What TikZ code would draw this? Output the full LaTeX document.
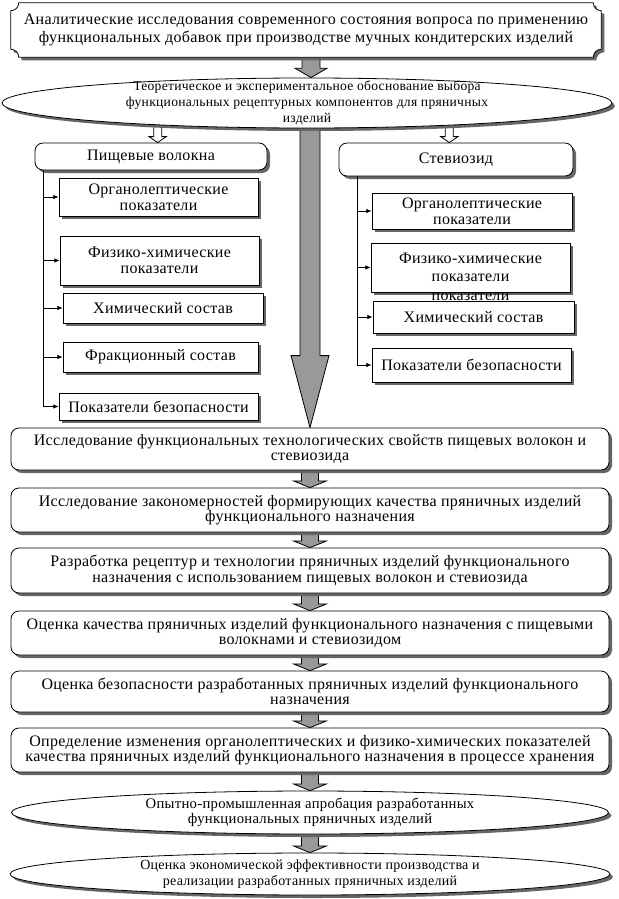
\documentclass[tikz,border=0pt]{standalone}
\usepackage{fontspec}
\setmainfont{Liberation Serif}[LetterSpace=2]
\usetikzlibrary{positioning, arrows.meta, calc, shapes.geometric, shadows}
\pgfdeclarelayer{back}
\pgfdeclarelayer{frame}
\pgfsetlayers{back,frame,main}

% block arrow: [style]{from}{to}{half shaft}{half head}{head length}
\newcommand{\blockarrow}[6][garr]{%
  \begin{pgfonlayer}{back}
  \draw[#1] let \p1=#2, \p2=#3 in
    (\x2-#4,\y1) -- (\x2+#4,\y1) -- (\x2+#4,\y2+#6) -- (\x2+#5,\y2+#6)
    -- (\x2,\y2) -- (\x2-#5,\y2+#6) -- (\x2-#4,\y2+#6) -- cycle;
  \end{pgfonlayer}}

\begin{document}
\begin{tikzpicture}[
    x=0.75pt, y=-0.75pt,
    shadowed/.style={drop shadow={shadow xshift=2.25pt, shadow yshift=-2.25pt, fill=black!60, opacity=1}},
    txt/.style={font=\fontsize{12pt}{12pt}\selectfont, align=center, inner sep=0pt},
    rbox/.style={txt, draw, fill=white, rounded corners=6pt, line width=0.6pt, shadowed},
    pbox/.style={txt, draw, fill=white, line width=0.6pt, shadowed},
    stage/.style={rbox, minimum width=448.5pt, font=\fontsize{12pt}{11.5pt}\selectfont},
    oval/.style={txt, ellipse, draw, fill=white, line width=0.6pt, shadowed,
                 inner ysep=-3.5pt, font=\fontsize{11pt}{11.5pt}\selectfont},
    garr/.style={draw, fill=black!40, line width=0.6pt},
    warr/.style={draw, fill=white, line width=0.6pt},
    tip/.style={-{Latex[length=4pt, width=3.5pt]}, line width=0.6pt},
]
    \useasboundingbox (0,0) rectangle (618,899);

    % Top block and first oval
    \node[txt, minimum width=442.5pt, minimum height=40.5pt, font=\fontsize{12pt}{13.5pt}\selectfont]
        (top) at (306,30) {Аналитические исследования современного состояния вопроса по применению\\
                           функциональных добавок при производстве мучных кондитерских изделий};
    \begin{pgfonlayer}{frame}
    \draw[fill=white, line width=0.6pt, shadowed]
        ([xshift=6pt]top.north west) -- ([xshift=-6pt]top.north east)
        arc[start angle=180, end angle=270, radius=6pt] -- ([yshift=6pt]top.south east)
        arc[start angle=90, end angle=180, radius=6pt] -- ([xshift=6pt]top.south west)
        arc[start angle=0, end angle=90, radius=6pt] -- ([yshift=-6pt]top.north west)
        arc[start angle=270, end angle=360, radius=6pt] -- cycle;
    \end{pgfonlayer}
    \node[oval, minimum width=457.5pt, minimum height=37.5pt, font=\fontsize{10.2pt}{12pt}\selectfont]
        (oval1) at (307,103)
        {Теоретическое и экспериментальное обоснование выбора\\
         функциональных рецептурных компонентов для пряничных\\изделий};

    % Components
    \node[rbox, minimum width=174pt, minimum height=20.25pt]   (pv)  at (151,156.5) {Пищевые волокна};
    \node[rbox, minimum width=175.5pt, minimum height=24.75pt] (stv) at (456,159.5) {Стевиозид};

    \node[pbox, minimum width=149.25pt, minimum height=28.5pt]  (f1) at (158.5,197)   {Органолептические\\показатели};
    \node[pbox, minimum width=149.25pt, minimum height=36.75pt] (f2) at (159.5,260.5) {Физико-химические\\показатели};
    \node[pbox, minimum width=150pt,    minimum height=22.5pt]  (f3) at (163,308)     {Химический состав};
    \node[pbox, minimum width=146.25pt, minimum height=22.5pt]  (f4) at (160.5,357)   {Фракционный состав};
    \node[pbox, minimum width=149.25pt, minimum height=20.25pt] (f5) at (158.5,406.5) {Показатели безопасности};

    \node[pbox, minimum width=150pt,    minimum height=27pt]    (s1) at (472,211)     {Органолептические\\показатели};
    \node[pbox, minimum width=149.25pt, minimum height=36.75pt, font=\fontsize{12pt}{14pt}\selectfont]
        (s2) at (470.5,267.5) {Физико-химические\\показатели};
    \node[txt] (s2x) at (470.5,297) {показатели};
    \node[pbox, minimum width=150.75pt, minimum height=24pt]    (s3) at (473.5,317)   {Химический состав};
    \node[pbox, minimum width=149.25pt, minimum height=25.5pt]  (s4) at (471.5,365)   {Показатели безопасности};

    % Branch lines
    \coordinate (trunkL) at (43,0);
    \coordinate (trunkR) at (357,0);
    \draw[line width=0.6pt] (pv.south -| trunkL) -- (trunkL |- f5.west);
    \draw[line width=0.6pt] (stv.south -| trunkR) -- (trunkR |- s4.west);
    \foreach \b in {f1,f2,f3,f4,f5}
        \draw[tip] (trunkL |- \b.west) -- (\b.west);
    \foreach \b in {s1,s2,s3,s4}
        \draw[tip] (trunkR |- \b.west) -- (\b.west);

    % Stages
    \node[stage, minimum height=31.5pt]  (A) at (310,449)   {Исследование функциональных технологических свойств пищевых волокон и\\стевиозида};
    \node[stage, minimum height=33pt]    (B) at (310,510)   {Исследование закономерностей формирующих качества пряничных изделий\\функционального назначения};
    \node[stage, minimum height=33.75pt] (C) at (310,570.5) {Разработка рецептур и технологии пряничных изделий функционального\\назначения с использованием пищевых волокон и стевиозида};
    \node[stage, minimum height=33pt]    (D) at (310,633)   {Оценка качества пряничных изделий функционального назначения с пищевыми\\волокнами и стевиозидом};
    \node[stage, minimum height=30.75pt] (E) at (310,691.5) {Оценка безопасности разработанных пряничных изделий функционального\\назначения};
    \node[stage, minimum height=33pt]    (F) at (310,750)   {Определение изменения органолептических и физико-химических показателей\\качества пряничных изделий функционального назначения в процессе хранения};
    \node[oval, minimum width=447.75pt, minimum height=32.25pt] (G) at (310,812.5)
        {Опытно-промышленная апробация разработанных\\функциональных пряничных изделий};
    \node[oval, minimum width=450pt, minimum height=31.5pt, font=\fontsize{10.5pt}{11.5pt}\selectfont]
        (H) at (310,874)
        {Оценка экономической эффективности производства и\\реализации разработанных пряничных изделий};

    % Arrows
    \blockarrow{(top.south)}{([xshift=3pt]oval1.north)}{6.75pt}{12pt}{7pt}
    \blockarrow{(oval1.south)}{(A.north)}{7.5pt}{14.25pt}{54pt}
    \blockarrow[warr]{(oval1.188)}{([xshift=5pt]pv.north)}{3pt}{6.5pt}{4.5pt}
    \blockarrow[warr]{(oval1.352)}{([xshift=-5pt]stv.north)}{3pt}{6.5pt}{4.5pt}
    \foreach \a/\b in {A/B, B/C, C/D, D/E, E/F, F/G, G/H}
        {\blockarrow{(\a.south)}{(\b.north)}{6.4pt}{12.4pt}{5pt}}
\end{tikzpicture}
\end{document}
